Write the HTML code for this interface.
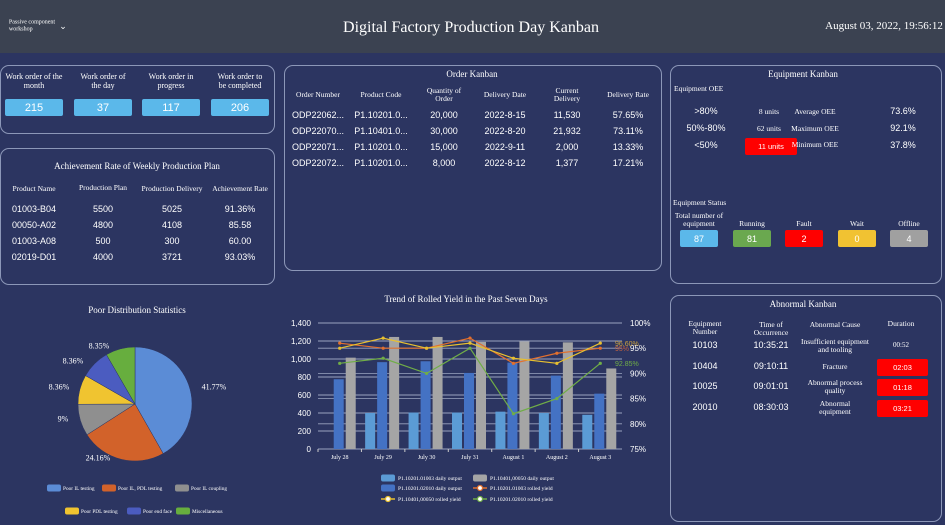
<!DOCTYPE html>
<html><head><meta charset="utf-8"><style>
*{margin:0;padding:0;box-sizing:border-box}
body{width:945px;height:525px;background:#2c3561;font-family:"Liberation Serif",serif;color:#fff;position:relative;overflow:hidden}
.hdr{position:absolute;left:0;top:0;width:945px;height:53px;background:#3b4251}
.p{position:absolute;border:1.5px solid #8c97b8;border-radius:9px}
.t{position:absolute;transform:translate(-50%,-50%);white-space:nowrap;text-align:center;line-height:1.1}
.s{font-family:"Liberation Sans",sans-serif}
.b{position:absolute;border-radius:2px;display:flex;align-items:center;justify-content:center;font-family:"Liberation Sans",sans-serif;font-size:11px;color:#fff}
</style></head><body>
<div class="hdr"></div>
<div class="t" style="left:32px;top:26px;font-size:6px;text-align:left;transform:translate(-50%,-50%)">Passive component<br>workshop</div>
<div class="t" style="left:63px;top:27px;font-size:9px">&#8964;</div>
<div class="t" style="left:471px;top:28px;font-size:16px">Digital Factory Production Day Kanban</div>
<div class="t" style="left:884px;top:26px;font-size:11px">August 03, 2022, 19:56:12</div>

<div class="p" style="left:0;top:65px;width:275px;height:69px"></div>
<div class="p" style="left:0;top:148px;width:275px;height:137px"></div>
<div class="p" style="left:284px;top:65px;width:378px;height:206px"></div>
<div class="p" style="left:670px;top:65px;width:272px;height:219px"></div>
<div class="p" style="left:670px;top:295px;width:272px;height:227px"></div>

<div id="txt"></div>
<svg id="sv" width="945" height="525" style="position:absolute;left:0;top:0"></svg>
<script>
const T=document.getElementById('txt');let h='';
function t(x,y,s,fs,st){h+=`<div class="t ${st||''}" style="left:${x}px;top:${y}px;font-size:${fs}px">${s}</div>`}
function b(x,y,w,hh,c,s,fs){h+=`<div class="b" style="left:${x}px;top:${y}px;width:${w}px;height:${hh}px;background:${c};font-size:${fs||11}px">${s}</div>`}
[[34,'Work order of the<br>month','215'],[103,'Work order of<br>the day','37'],[171,'Work order in<br>progress','117'],[240,'Work order to<br>be completed','206']].forEach(a=>{t(a[0],82,a[1],8);b(a[0]-29,99,58,17,'#5bb8ea',a[2],11)});
t(137,167,'Achievement Rate of Weekly Production Plan',9);
t(34,189,'Product Name',7.5);t(103,188,'Production Plan',7.5);t(172,189,'Production Delivery',7.5);t(240,189,'Achievement Rate',7.5);
[['01003-B04','5500','5025','91.36%'],['00050-A02','4800','4108','85.58'],['01003-A08','500','300','60.00'],['02019-D01','4000','3721','93.03%']].forEach((r,i)=>{let y=210+i*16;t(34,y,r[0],9,'s');t(103,y,r[1],9,'s');t(172,y,r[2],9,'s');t(240,y,r[3],9,'s')});
t(472,75,'Order Kanban',9);
[[318,'Order Number'],[381,'Product Code'],[444,'Quantity of<br>Order'],[505,'Delivery Date'],[567,'Current<br>Delivery'],[628,'Delivery Rate']].forEach(a=>t(a[0],95,a[1],7.5));
[['ODP22062...','P1.10201.0...','20,000','2022-8-15','11,530','57.65%'],['ODP22070...','P1.10401.0...','30,000','2022-8-20','21,932','73.11%'],['ODP22071...','P1.10201.0...','15,000','2022-9-11','2,000','13.33%'],['ODP22072...','P1.10201.0...','8,000','2022-8-12','1,377','17.21%']].forEach((r,i)=>{let y=116+i*16;[318,381,444,505,567,628].forEach((x,j)=>t(x,y,r[j],9,'s'))});
t(803,75,'Equipment Kanban',9);
h+=`<div style="position:absolute;left:674px;top:84px;font-size:7.5px">Equipment OEE</div>`;
t(706,112,'&gt;80%',9,'s');t(769,112,'8 units',7.5);t(815,112,'Average OEE',7.5);t(903,112,'73.6%',9,'s');
t(706,129,'50%-80%',9,'s');t(769,129,'62 units',7.5);t(815,129,'Maximum OEE',7.5);t(903,129,'92.1%',9,'s');
t(706,146,'&lt;50%',9,'s');b(745,138,52,17,'#ff0000','11 units',7.5);t(815,145,'Minimum OEE',7.5);t(903,146,'37.8%',9,'s');
h+=`<div style="position:absolute;left:673px;top:198px;font-size:7.5px">Equipment Status</div>`;
[[699,'Total number of<br>equipment','87','#5bb8ea'],[752,'Running','81','#6aa84f'],[804,'Fault','2','#ff0000'],[857,'Wait','0','#f1c232'],[909,'Offline','4','#a0a0a0']].forEach((a,i)=>{t(a[0],i?224:220,a[1],7.5);b(a[0]-19,230,38,17,a[3],a[2],9)});
t(803,305,'Abnormal Kanban',9);
t(705,328,'Equipment<br>Number',7.5);t(771,329,'Time of<br>Occurrence',7.5);t(835,325,'Abnormal Cause',7.5);t(901,324,'Duration',7.5);
[['10103','10:35:21','Insufficient equipment<br>and tooling','00:52',0],['10404','09:10:11','Fracture','02:03',1],['10025','09:01:01','Abnormal process<br>quality','01:18',1],['20010','08:30:03','Abnormal<br>equipment','03:21',1]].forEach((r,i)=>{let y=346+i*20.5;t(705,y,r[0],9,'s');t(771,y,r[1],9,'s');t(835,y,r[2],7.5);if(r[4])b(877,y-8,51,17,'#ff0000',r[3],7.5);else t(901,y,r[3],7)});
t(137,311,'Poor Distribution Statistics',9);
[[214,388,'41.77%'],[98,459,'24.16%'],[63,420,'9%'],[59,388,'8.36%'],[73,362,'8.36%'],[99,347,'8.35%']].forEach(a=>t(a[0],a[1],a[2],8));
T.innerHTML=h;
let s='';
const cx=135,cy=404,r=57;let ang=0;
[[41.77,'#5b8cd6'],[24.16,'#d2622a'],[9,'#8f8f8f'],[8.36,'#f0c430'],[8.36,'#4b5cc0'],[8.35,'#67ae3e']].forEach(a=>{let a0=ang,a1=ang+a[0]/100*2*Math.PI;ang=a1;
let x0=cx+r*Math.sin(a0),y0=cy-r*Math.cos(a0),x1=cx+r*Math.sin(a1),y1=cy-r*Math.cos(a1);
s+=`<path d="M${cx},${cy}L${x0},${y0}A${r},${r} 0 ${a1-a0>Math.PI?1:0} 1 ${x1},${y1}Z" fill="${a[1]}" stroke="#2c3561" stroke-width="0.5"/>`});
function leg(x,y,c,l){s+=`<rect x="${x}" y="${y-3.5}" width="14" height="7" rx="2" fill="${c}"/><text x="${x+16}" y="${y+2}" font-size="5.3" fill="#fff" font-family="Liberation Serif">${l}</text>`}
leg(47,488,'#5b8cd6','Poor IL testing');leg(102,488,'#d2622a','Poor IL, PDL testing');leg(175,488,'#8f8f8f','Poor IL coupling');
leg(65,511,'#f0c430','Poor PDL testing');leg(127,511,'#4b5cc0','Poor end face');leg(176,511,'#67ae3e','Miscellaneous');
s+=`<text x="466" y="302" font-size="9" fill="#fff" text-anchor="middle" font-family="Liberation Serif">Trend of Rolled Yield in the Past Seven Days</text>`;
const L=318,R=622,Y0=449,Y1=323;const yv=v=>Y0-v/1400*(Y0-Y1),yp=p=>Y0-(p-75)/25*(Y0-Y1);
for(let i=0;i<=7;i++){let y=Y0-i*18;s+=`<line x1="${L}" x2="${R}" y1="${y}" y2="${y}" stroke="#9aa3c0" stroke-width="1"/><text x="${L-7}" y="${y+3}" font-size="8" fill="#fff" text-anchor="end" font-family="Liberation Sans">${(i*200).toLocaleString('en-US')}</text>`}
for(let i=0;i<=5;i++){let y=Y0-i*25.2;s+=`<line x1="${L}" x2="${R}" y1="${y}" y2="${y}" stroke="#9aa3c0" stroke-width="0.8"/><text x="${R+8}" y="${y+3}" font-size="8" fill="#fff" font-family="Liberation Sans">${75+i*5}%</text>`}
const cw=(R-L)/7;const cats=['July 28','July 29','July 30','July 31','August 1','August 2','August 3'];
const lb=[0,400,405,405,415,400,380],bl=[775,965,975,845,960,815,615],gr=[1015,1245,1245,1190,1195,1185,895];
cats.forEach((c,i)=>{let x=L+i*cw;s+=`<line x1="${x}" x2="${x}" y1="${Y0}" y2="${Y0+3}" stroke="#ccc"/>`;
s+=`<text x="${x+cw/2}" y="${Y0+10}" font-size="6" fill="#fff" text-anchor="middle" font-family="Liberation Serif">${c}</text>`;
[[lb[i],'#5b9bd5',-1.5],[bl[i],'#4472c4',-0.5],[gr[i],'#a5a5a5',0.5]].forEach(q=>{if(q[0]){let bx=x+cw/2+q[2]*12;s+=`<rect x="${bx}" y="${yv(q[0])}" width="10" height="${Y0-yv(q[0])}" fill="${q[1]}"/>`}})});
function ln(d,c){let pts=d.map((p,i)=>[L+i*cw+cw/2,yp(p)]);s+=`<polyline points="${pts.map(p=>p.join(',')).join(' ')}" fill="none" stroke="${c}" stroke-width="1.2"/>`;pts.forEach(p=>s+=`<circle cx="${p[0]}" cy="${p[1]}" r="1.6" fill="${c}"/>`)}
ln([96,95,95,97,92,94,95],'#e2702e');ln([95,97,95,96,93,92,96],'#e8c030');ln([92,93,90,95,82,85,92],'#70ad47');
s+=`<text x="615" y="346" font-size="7" fill="#c9a040" font-family="Liberation Sans">96.60%</text><text x="615" y="351" font-size="7" fill="#c06040" font-family="Liberation Sans">95%</text><text x="615" y="366" font-size="7" fill="#70ad47" font-family="Liberation Sans">92.85%</text>`;
function lg2(x,y,c,l,line){if(line)s+=`<line x1="${x}" x2="${x+14}" y1="${y}" y2="${y}" stroke="${c}" stroke-width="1.5"/><circle cx="${x+7}" cy="${y}" r="2.5" fill="#fff" stroke="${c}" stroke-width="1.2"/>`;else s+=`<rect x="${x}" y="${y-3.5}" width="14" height="7" rx="2" fill="${c}"/>`;s+=`<text x="${x+17}" y="${y+2}" font-size="5.5" fill="#fff" font-family="Liberation Serif">${l}</text>`}
lg2(381,478,'#5b9bd5','P1.10201.01003 daily output');lg2(473,478,'#a5a5a5','P1.10401,00050 daily output');
lg2(381,488,'#4472c4','P1.10201.02010 daily output');lg2(473,488,'#e2702e','P1.10201.01003 rolled yield',1);
lg2(381,499,'#e8c030','P1.10401,00050 rolled yield',1);lg2(473,499,'#70ad47','P1.10201.02010 rolled yield',1);
document.getElementById('sv').innerHTML=s;
</script>
</body></html>
